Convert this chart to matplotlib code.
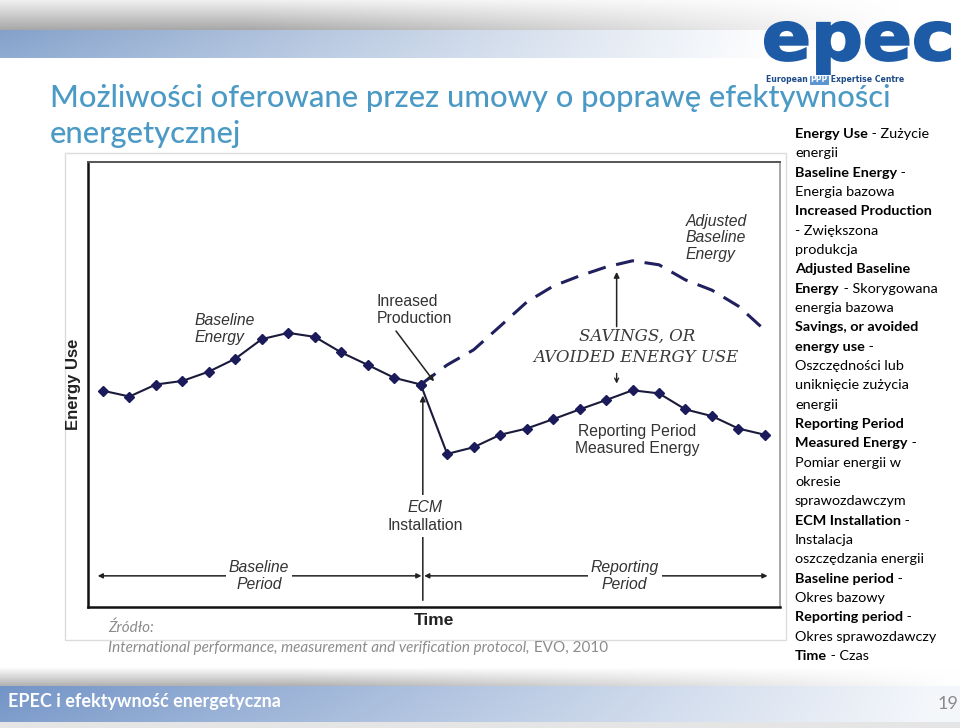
import numpy as np
import matplotlib
matplotlib.use('Agg')
import matplotlib.pyplot as plt
from matplotlib.textpath import TextPath
from matplotlib.patches import PathPatch, Rectangle
from matplotlib.font_manager import FontProperties
from matplotlib.transforms import Affine2D

# energy use (arbitrary units) per time step
baseline_x = list(range(0, 13))
baseline_y = [48.6, 47.3, 50.0, 50.8, 52.9, 55.8, 60.2, 61.6, 60.7, 57.2, 54.4, 51.5, 50.0]
measured_x = list(range(12, 26))
measured_y = [50.0, 34.4, 35.9, 38.7, 40.1, 42.2, 44.4, 46.5, 48.7, 48.0, 44.4, 42.9, 40.1, 38.7]
adjusted_x = list(range(12, 26))
adjusted_y = [50.0, 54.4, 57.8, 63.1, 68.5, 72.1, 74.4, 76.4, 77.8, 76.9, 73.5, 71.2, 67.6, 62.2]
ecm_step = 12

title_lines = ['Możliwości oferowane przez umowy o poprawę efektywności', 'energetycznej']
glossary = [
    ('Energy Use', ' - Zużycie'),
    ('', 'energii'),
    ('Baseline Energy', ' -'),
    ('', 'Energia bazowa'),
    ('Increased Production', ''),
    ('', '- Zwiększona'),
    ('', 'produkcja'),
    ('Adjusted Baseline', ''),
    ('Energy', ' - Skorygowana'),
    ('', 'energia bazowa'),
    ('Savings, or avoided', ''),
    ('energy use', ' -'),
    ('', 'Oszczędności lub'),
    ('', 'uniknięcie zużycia'),
    ('', 'energii'),
    ('Reporting Period', ''),
    ('Measured Energy', ' -'),
    ('', 'Pomiar energii w'),
    ('', 'okresie'),
    ('', 'sprawozdawczym'),
    ('ECM Installation', ' -'),
    ('', 'Instalacja'),
    ('', 'oszczędzania energii'),
    ('Baseline period', ' -'),
    ('', 'Okres bazowy'),
    ('Reporting period', ' -'),
    ('', 'Okres sprawozdawczy'),
    ('Time', ' - Czas'),
]

CAL = 'Lato'
ARIAL = 'Liberation Sans'
NAVY = '#1b1b5c'

fig = plt.figure(figsize=(9.6, 7.28), dpi=100)
renderer = fig.canvas.get_renderer()

# full-slide axes in pixel units
bg = fig.add_axes([0, 0, 1, 1])
bg.set_xlim(0, 960)
bg.set_ylim(728, 0)
bg.axis('off')

# header / footer gradient bands
H, W = 728, 960
img = np.ones((H, W, 3))
xx = np.arange(W)[None, :, None]


def band(y0, y1, c_top, c_bot, fx0, fx1, floor=0.0):
    t = np.linspace(0, 1, y1 - y0)[:, None, None]
    c = np.array(c_top)[None, None, :] * (1 - t) + np.array(c_bot)[None, None, :] * t
    w = np.clip((fx1 - xx) / (fx1 - fx0), floor, 1.0)
    img[y0:y1] = 1 + (c - 1) * w


band(0, 30, (0.94, 0.94, 0.94), (0.66, 0.66, 0.66), 250, 900)
band(30, 58, (0.52, 0.63, 0.79), (0.56, 0.67, 0.82), 0, 780)
band(668, 686, (0.98, 0.98, 0.98), (0.70, 0.70, 0.70), 300, 960)
band(686, 722, (0.45, 0.58, 0.78), (0.50, 0.62, 0.80), 0, 1010, floor=0.08)
img[722:] = 0.9
bg.imshow(img, extent=(0, 960, 728, 0), aspect='auto', zorder=0)

# logo
tp = TextPath((0, 0), 'epec', size=100, prop=FontProperties(family='DejaVu Sans', weight='bold'))
ext = tp.get_extents()
tr = (Affine2D().translate(-ext.x0, -ext.y0)
      .scale(185 / ext.width, -52 / ext.height).translate(765, 74))
bg.add_patch(PathPatch(tr.transform_path(tp), facecolor='#1d5ba7', edgecolor='#1d5ba7',
                       lw=1.5, zorder=3))
lx = 766
t = bg.text(lx, 80, 'European ', fontsize=5.6, fontweight='bold', color='#1b4a88',
            family='DejaVu Sans', va='center', zorder=3)
lx += t.get_window_extent(renderer).width
t = bg.text(lx, 80, 'PPP', fontsize=5.6, fontweight='bold', color='white', family='DejaVu Sans',
            va='center', zorder=4)
pw = t.get_window_extent(renderer).width
bg.add_patch(Rectangle((lx - 1, 75.5), pw + 2, 9, facecolor='#5c96d2', edgecolor='none', zorder=3))
lx += pw
bg.text(lx, 80, ' Expertise Centre', fontsize=5.6, fontweight='bold', color='#1b4a88',
        family='DejaVu Sans', va='center', zorder=3)

# title, scaled to the slide width used by the original
t1 = bg.text(50, 98, title_lines[0], fontsize=22, color='#4b9ac5', family=CAL, va='center',
             fontweight='medium')
fs = 22 * 840 / t1.get_window_extent(renderer).width
t1.set_fontsize(fs)
bg.text(50, 134, title_lines[1], fontsize=fs, color='#4b9ac5', family=CAL, va='center',
        fontweight='medium')

# glossary on the right
for i, (b, n) in enumerate(glossary):
    y = 134 + 19.33 * i
    x = 795
    if b:
        tb = bg.text(x, y, b, fontsize=10.4, fontweight='bold', family=CAL, color='black', va='center')
        x += tb.get_window_extent(renderer).width
    if n:
        bg.text(x, y, n, fontsize=10.4, family=CAL, color='black', va='center')

# footer
bg.text(8, 701, 'EPEC i efektywność energetyczna', fontsize=13, color='white', family=CAL,
        va='center', fontweight='bold')
bg.text(958, 704, '19', fontsize=13, color='#8a8a8a', family=CAL, va='center', ha='right')

# source
bg.text(108, 628, 'Źródło:', fontsize=11, style='italic', color='#8c8c8c', family=CAL, va='center')
ts = bg.text(108, 648, 'International performance, measurement and verification protocol,',
             fontsize=11, style='italic', color='#8c8c8c', family=CAL, va='center')
bg.text(108 + ts.get_window_extent(renderer).width, 648, ' EVO, 2010', fontsize=11,
        color='#8c8c8c', family=CAL, va='center')

# picture frame
bg.add_patch(Rectangle((65, 153), 721, 487, facecolor='none', edgecolor='#dcdcdc', lw=1, zorder=1))

# chart
ax = fig.add_axes([88 / 960, 121 / 728, 692 / 960, 445 / 728])
ax.set_facecolor('none')
ax.set_xlim(-0.566, 25.57)
ax.set_ylim(0, 100)
ax.set_xticks([])
ax.set_yticks([])
ax.spines['left'].set(color='#111111', lw=1.8)
ax.spines['bottom'].set(color='#111111', lw=1.8)
ax.spines['top'].set(color='#555555', lw=1.4)
ax.spines['right'].set(color='#9a9a9a', lw=1.2)
ax.set_ylabel('Energy Use', fontsize=12, fontweight='bold', family=ARIAL, color='#222222', labelpad=5)
ax.set_xlabel('Time', fontsize=12.5, fontweight='bold', family=ARIAL, color='#222222', labelpad=4)

ax.plot(adjusted_x, adjusted_y, color='#20205e', lw=2.2, dashes=(6, 3.5), zorder=3)
ax.plot(baseline_x, baseline_y, color='#1a1a3a', lw=1.5, marker='D', ms=5.5,
        mfc=NAVY, mec=NAVY, zorder=4)
ax.plot(measured_x, measured_y, color='#1a1a3a', lw=1.5, marker='D', ms=5.5,
        mfc=NAVY, mec=NAVY, zorder=4)

txt = dict(family=ARIAL, fontsize=11.3, color='#333333', linespacing=1.15)
px = bg.transData
ax.text(195, 329, 'Baseline\nEnergy', style='italic', ha='left', va='center', transform=px, **txt)
ax.text(377, 310, 'Inreased\nProduction', ha='left', va='center', transform=px, **txt)
ax.text(686, 238, 'Adjusted\nBaseline\nEnergy', style='italic', ha='left', va='center',
        transform=px, **txt)
ax.text(637, 440, 'Reporting Period\nMeasured Energy', ha='center', va='center', transform=px, **txt)

sav = dict(family='DejaVu Serif', style='italic', color='#3a3a3a', ha='center', va='center')
ax.text(637, 336, 'SAVINGS, OR', fontsize=12, transform=px, **sav)
ax.text(636, 357, 'AVOIDED ENERGY USE', fontsize=12, transform=px, **sav)

arrow = dict(arrowstyle='-|>', color='#222222', lw=1.1, mutation_scale=8, shrinkA=0, shrinkB=0)
# increased production -> start of adjusted baseline
ax.annotate('', xy=((adjusted_x[0] + adjusted_x[1]) / 2, (adjusted_y[0] + adjusted_y[1]) / 2 - 1.5),
            xytext=(396, 331), textcoords=px, arrowprops=arrow)
# savings arrows
peak = int(np.argmax(adjusted_y))
sx = adjusted_x[peak] - 0.6
ax.annotate('', xy=(sx, adjusted_y[peak] - 2.5), xytext=(sx, 63), arrowprops=arrow)
ax.annotate('', xy=(sx, measured_y[peak] + 1.5), xytext=(sx, 52.5),
            arrowprops=dict(arrowstyle='->', color='#222222', lw=1.0, mutation_scale=7,
                            shrinkA=0, shrinkB=0))

# ECM installation line
ex = ecm_step + 0.08
ax.annotate('', xy=(ex, baseline_y[ecm_step] - 2.5), xytext=(ex, 1.5), arrowprops=arrow)
mask = dict(facecolor='white', edgecolor='none', pad=3)
ax.text(425, 507, 'ECM', style='italic', ha='center', va='center', bbox=mask, zorder=6,
        transform=px, **txt)
ax.text(425, 525, 'Installation', ha='center', va='center', bbox=mask, zorder=6,
        transform=px, **txt)

# period arrows
py = 7.0
two = dict(arrowstyle='<|-|>', color='#222222', lw=1.1, mutation_scale=7, shrinkA=0, shrinkB=0)
ax.annotate('', xy=(-0.2, py), xytext=(ex - 0.05, py), arrowprops=two)
ax.annotate('', xy=(ex + 0.05, py), xytext=(25.1, py), arrowprops=two)
ax.text(5.9, py, 'Baseline\nPeriod', style='italic', ha='center', va='center', zorder=6,
        bbox=dict(facecolor='white', edgecolor='none', pad=2), **txt)
ax.text(19.7, py, 'Reporting\nPeriod', style='italic', ha='center', va='center', zorder=6,
        bbox=dict(facecolor='white', edgecolor='none', pad=2), **txt)

fig.savefig('out.png', dpi=100)
